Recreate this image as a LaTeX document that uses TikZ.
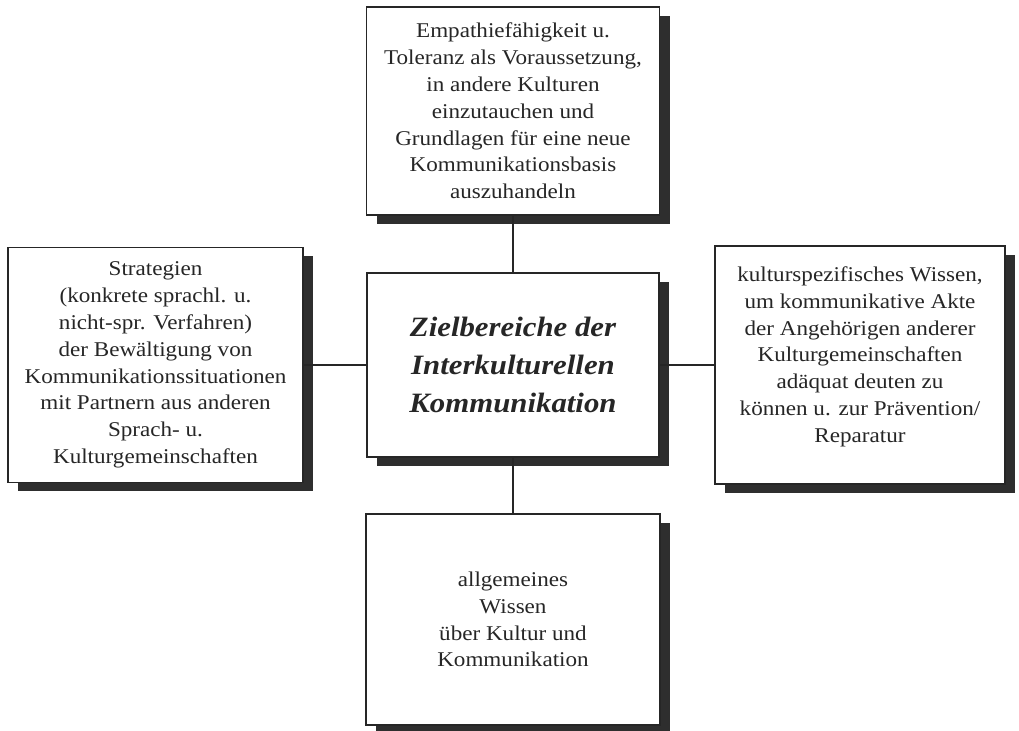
\documentclass[tikz,border=0pt]{standalone}
\usepackage{fontspec}
\setmainfont[FakeStretch=1.1]{Liberation Serif}
\usetikzlibrary{shadows}

\begin{document}
\begin{tikzpicture}[x=0.5pt, y=-0.5pt,
  zbox/.style={rectangle, draw=black!85, line width=0.9pt, fill=white,
    align=center, inner sep=0pt, text=black!85,
    font=\fontsize{10.5}{13.4}\selectfont,
    drop shadow={shadow xshift=5pt, shadow yshift=-4.5pt, opacity=1, fill=black!82}},
  zlink/.style={line width=1.1pt, draw=black!85}]
\useasboundingbox (0,0) rectangle (1019,731);
%%%  nodes

% centre node
\node [zbox, minimum width=146pt, minimum height=92pt,
  font=\fontsize{14}{19}\selectfont\bfseries\itshape] (ziel) at (513,365)
  {Zielbereiche der\\ Interkulturellen\\ Kommunikation};

% outer nodes
\node [zbox, minimum width=146.5pt, minimum height=104pt] (empathie) at (513,111)
  {Empathiefähigkeit u.\\ Toleranz als Voraussetzung,\\ in andere Kulturen\\
   einzutauchen und\\ Grundlagen für eine neue\\ Kommunikationsbasis\\ auszuhandeln};
\node [zbox, minimum width=147.5pt, minimum height=117.5pt] (strategien) at (155.5,365)
  {Strategien\\ (konkrete sprachl. u.\\ nicht-spr. Verfahren)\\ der Bewältigung von\\
   Kommunikationssituationen\\ mit Partnern aus anderen\\ Sprach- u.\\ Kulturgemeinschaften};
\node [zbox, minimum width=145pt, minimum height=119pt] (wissen) at (860,365)
  {kulturspezifisches Wissen,\\ um kommunikative Akte\\ der Angehörigen anderer\\
   Kulturgemeinschaften\\ adäquat deuten zu\\ können u. zur Prävention/\\ Reparatur\\[-3pt]\mbox{}};
\node [zbox, minimum width=147pt, minimum height=105.5pt] (allgemein) at (513,619.5)
  {allgemeines\\ Wissen\\ über Kultur und\\ Kommunikation};

%%% edges
\draw (empathie) [zlink] to (ziel);
\draw (ziel) [zlink] to (allgemein);
\draw (strategien) [zlink] to (ziel);
\draw (ziel) [zlink] to (wissen);
\end{tikzpicture}
\end{document}
